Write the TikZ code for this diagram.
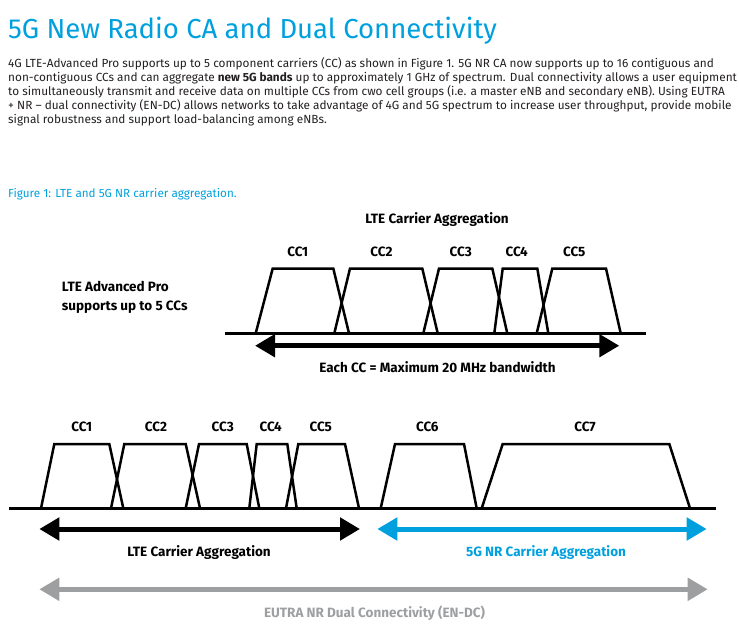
\documentclass[tikz,border=0pt]{standalone}
\usepackage{fontspec}
\setmainfont{Fira Sans}
\usetikzlibrary{arrows.meta}
\definecolor{cyanT}{RGB}{0,160,222}
\definecolor{bodyT}{RGB}{35,31,32}
\definecolor{grayA}{RGB}{158,159,161}
\tikzset{
  bodyline/.style={anchor=base west,inner sep=0pt,text=bodyT,font=\fontsize{11.8}{13}\selectfont},
  cclabel/.style={anchor=base,inner sep=0pt,font=\fontsize{13.5}{15}\selectfont\bfseries},
  lbl/.style={anchor=base,inner sep=0pt,font=\fontsize{13.5}{15}\selectfont\bfseries},
  carrier/.style={line width=2.5pt,line join=miter},
  axis/.style={line width=2.6pt},
  bigarrow/.style={line width=5pt,{Triangle[length=20pt,width=22pt]}-{Triangle[length=20pt,width=22pt]}},
}
\begin{document}
\begin{tikzpicture}[x=1pt,y=-1pt]
\useasboundingbox (0,0) rectangle (739,641);
% title and text
\node[anchor=base west,inner sep=0pt,text=cyanT,font=\fontsize{27.5}{30}\selectfont] (title) at (8,38.3) {5G New Radio CA and Dual Connectivity};
\node[bodyline] (l1) at (8,67.3) {4G LTE-Advanced Pro supports up to 5 component carriers (CC) as shown in Figure 1. 5G NR CA now supports up to 16 contiguous and};
\node[bodyline] (l2) at (8,81.3) {non-contiguous CCs and can aggregate \textbf{new 5G bands} up to approximately 1 GHz of spectrum. Dual connectivity allows a user equipment};
\node[bodyline] (l3) at (8,95.3) {to simultaneously transmit and receive data on multiple CCs from cwo cell groups (i.e. a master eNB and secondary eNB). Using EUTRA};
\node[bodyline] (l4) at (8,109.3) {+ NR – dual connectivity (EN-DC) allows networks to take advantage of 4G and 5G spectrum to increase user throughput, provide mobile};
\node[bodyline] (l5) at (8,123.3) {signal robustness and support load-balancing among eNBs.};
\node[anchor=base west,inner sep=0pt,text=cyanT,font=\fontsize{11.7}{13}\selectfont] (cap) at (8,197.3) {Figure 1: LTE and 5G NR carrier aggregation.};

% ---------- top diagram ----------
\node[lbl] (ltecaT) at (437,223.5) {LTE Carrier Aggregation};
\node[anchor=base west,inner sep=0pt,font=\fontsize{13.5}{15}\selectfont\bfseries] (ltea) at (61.7,291.5) {LTE Advanced Pro};
\node[anchor=base west,inner sep=0pt,font=\fontsize{13.5}{15}\selectfont\bfseries] (ltea2) at (61.7,310) {supports up to 5 CCs};
\foreach \n/\x in {1/297.7,2/381.5,3/460.7,4/516.7,5/574.3}
  \node[cclabel] (tcc\n) at (\x,256) {CC\n};
\draw[carrier] (255.7,333.3) -- (272.7,268.5) -- (333.3,268.5) -- (349,333.3);
\draw[carrier] (334.3,333.3) -- (350,268.5) -- (422.3,268.5) -- (437.7,333.3);
\draw[carrier] (423.3,333.3) -- (439,268.5) -- (492.3,268.5) -- (507.3,333.3);
\draw[carrier] (494.3,333.3) -- (502.7,268.5) -- (537.3,268.5) -- (548.3,333.3);
\draw[carrier] (536.7,333.3) -- (552.3,268.5) -- (606,268.5) -- (620.7,333.3);
\coordinate (tax1) at (225,333.3);
\coordinate (tax2) at (645.7,333.3);
\draw[axis] (tax1) -- (tax2);
\coordinate (ta1) at (255,345.7);
\coordinate (ta2) at (619.3,345.7);
\draw[bigarrow] (ta1) -- (ta2);
\node[lbl] (eachcc) at (437.5,372.5) {Each CC = Maximum 20 MHz bandwidth};

% ---------- bottom diagram ----------
\foreach \n/\x in {1/81.7,2/156,3/222.7,4/270.7,5/320.7,6/427.3,7/585}
  \node[cclabel] (bcc\n) at (\x,431.5) {CC\n};
\draw[carrier] (41,508.3) -- (54.3,444) -- (109.3,444) -- (123.3,508.3);
\draw[carrier] (111,508.3) -- (124.3,444) -- (185.7,444) -- (200,508.3);
\draw[carrier] (185.7,508.3) -- (199,444) -- (246.7,444) -- (259.3,508.3);
\draw[carrier] (249.3,508.3) -- (256.7,444) -- (287.3,444) -- (296.7,508.3);
\draw[carrier] (286,508.3) -- (298.3,444) -- (345,444) -- (359,508.3);
\draw[carrier] (380.7,508.3) -- (395,444) -- (464,444) -- (476.7,508.3);
\draw[carrier] (481.7,508.3) -- (502.7,444) -- (669.3,444) -- (690,508.3);
\coordinate (bax1) at (9.3,508.3);
\coordinate (bax2) at (715.7,508.3);
\draw[axis] (bax1) -- (bax2);
\coordinate (ba1) at (39.3,529);
\coordinate (ba2) at (360,529);
\draw[bigarrow] (ba1) -- (ba2);
\coordinate (bb1) at (377.3,529);
\coordinate (bb2) at (706.7,529);
\draw[bigarrow,draw=cyanT,fill=cyanT] (bb1) -- (bb2);
\coordinate (bc1) at (39.3,589.3);
\coordinate (bc2) at (707.7,589.3);
\draw[bigarrow,draw=grayA,fill=grayA] (bc1) -- (bc2);
\node[lbl] (lteca) at (199,556) {LTE Carrier Aggregation};
\node[lbl,text=cyanT] (nrca) at (546,556) {5G NR Carrier Aggregation};
\node[lbl,text=grayA] (endc) at (374.5,617.5) {EUTRA NR Dual Connectivity (EN-DC)};
\end{tikzpicture}
\end{document}
